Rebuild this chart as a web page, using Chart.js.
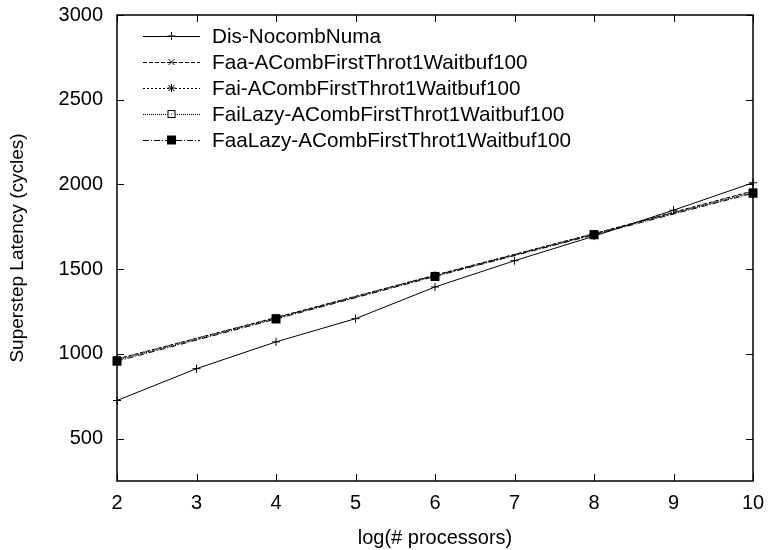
<!DOCTYPE html>
<html lang="en">
<head>
    <meta charset="UTF-8">
    <title>Superstep Latency</title>
    <script src="https://cdn.jsdelivr.net/npm/chart.js"></script>
    <style>
        body {
            margin: 0;
            background-color: white;
        }
        .chart-container {
            position: relative;
            width: 771px;
            height: 550px;
        }
    </style>
</head>
<body>
    <div class="chart-container">
        <canvas id="latencyChart"></canvas>
    </div>

    <script>
        // log2 of processor count
        const xAll = [2, 3, 4, 5, 6, 7, 8, 9, 10];
        const xEven = [2, 4, 6, 8, 10];

        // superstep latency in cycles
        const disNocombNuma = [725, 913, 1071, 1208, 1395, 1550, 1695, 1848, 2010];
        const faaAComb = [970, 1215, 1465, 1710, 1962];
        const faiAComb = [968, 1213, 1463, 1708, 1958];
        const faiLazyAComb = [962, 1210, 1460, 1706, 1952];
        const faaLazyAComb = [957, 1206, 1457, 1703, 1948];

        const xTicks = [2, 3, 4, 5, 6, 7, 8, 9, 10];
        const yTicks = [500, 1000, 1500, 2000, 2500, 3000];

        const FONT = "'Liberation Sans', Arial, sans-serif";

        function toPoints(xs, ys) {
            return xs.map(function(x, i) { return { x: x, y: ys[i] }; });
        }

        // gnuplot-like marker shapes
        function drawMarker(ctx, style, x, y, r) {
            ctx.save();
            ctx.strokeStyle = '#000';
            ctx.lineWidth = 1;
            ctx.setLineDash([]);
            ctx.beginPath();
            if (style === 'plus' || style === 'star') {
                ctx.moveTo(x - r, y); ctx.lineTo(x + r, y);
                ctx.moveTo(x, y - r); ctx.lineTo(x, y + r);
            }
            if (style === 'cross' || style === 'star') {
                const d = r * 0.75;
                ctx.moveTo(x - d, y - d); ctx.lineTo(x + d, y + d);
                ctx.moveTo(x - d, y + d); ctx.lineTo(x + d, y - d);
            }
            ctx.stroke();
            if (style === 'openSquare') {
                ctx.fillStyle = '#fff';
                ctx.fillRect(x - r, y - r, 2 * r, 2 * r);
                ctx.strokeRect(x - r + 0.5, y - r + 0.5, 2 * r - 1, 2 * r - 1);
                ctx.fillStyle = '#000';
                ctx.fillRect(x - 0.5, y - 0.5, 1, 1);
            }
            if (style === 'filledSquare') {
                ctx.fillStyle = '#000';
                ctx.fillRect(x - r, y - r, 2 * r, 2 * r);
            }
            ctx.restore();
        }

        const series = [
            { label: 'Dis-NocombNuma', xs: xAll, ys: disNocombNuma, dash: [], marker: 'plus', r: 4 },
            { label: 'Faa-ACombFirstThrot1Waitbuf100', xs: xEven, ys: faaAComb, dash: [4, 2], marker: 'cross', r: 4 },
            { label: 'Fai-ACombFirstThrot1Waitbuf100', xs: xEven, ys: faiAComb, dash: [2, 2], marker: 'star', r: 4 },
            { label: 'FaiLazy-ACombFirstThrot1Waitbuf100', xs: xEven, ys: faiLazyAComb, dash: [1, 1], marker: 'openSquare', r: 4 },
            { label: 'FaaLazy-ACombFirstThrot1Waitbuf100', xs: xEven, ys: faaLazyAComb, dash: [6, 2, 1, 2], marker: 'filledSquare', r: 4.5 }
        ];

        // frame, inward ticks on all sides, markers and key
        const gnuplotLook = {
            id: 'gnuplotLook',
            afterDatasetsDraw(chart) {
                const ctx = chart.ctx;
                const area = chart.chartArea;
                const xs = chart.scales.x;
                const ys = chart.scales.y;

                series.forEach(function(s, i) {
                    const meta = chart.getDatasetMeta(i);
                    meta.data.forEach(function(pt) {
                        drawMarker(ctx, s.marker, pt.x, pt.y, s.r);
                    });
                });

                ctx.save();
                ctx.strokeStyle = '#000';
                ctx.lineWidth = 1.5;
                ctx.setLineDash([]);
                ctx.strokeRect(area.left, area.top, area.right - area.left, area.bottom - area.top);

                const tl = 7;
                ctx.lineWidth = 1;
                ctx.beginPath();
                xTicks.forEach(function(v) {
                    const px = Math.round(xs.getPixelForValue(v)) + 0.5;
                    ctx.moveTo(px, area.bottom); ctx.lineTo(px, area.bottom - tl);
                    ctx.moveTo(px, area.top); ctx.lineTo(px, area.top + tl);
                });
                yTicks.forEach(function(v) {
                    const py = Math.round(ys.getPixelForValue(v)) + 0.5;
                    ctx.moveTo(area.left, py); ctx.lineTo(area.left + tl, py);
                    ctx.moveTo(area.right, py); ctx.lineTo(area.right - tl, py);
                });
                ctx.stroke();

                // key
                const keyX0 = 143, keyX1 = 200, textX = 212;
                let rowY = 36;
                ctx.font = '20.7px ' + FONT;
                ctx.fillStyle = '#000';
                ctx.textBaseline = 'middle';
                ctx.textAlign = 'left';
                series.forEach(function(s) {
                    ctx.setLineDash(s.dash);
                    ctx.beginPath();
                    ctx.moveTo(keyX0, rowY + 0.5);
                    ctx.lineTo(keyX1, rowY + 0.5);
                    ctx.stroke();
                    ctx.setLineDash([]);
                    drawMarker(ctx, s.marker, (keyX0 + keyX1) / 2, rowY, s.r);
                    ctx.fillText(s.label, textX, rowY + 1);
                    rowY += 26;
                });
                ctx.restore();
            }
        };

        const config = {
            type: 'line',
            data: {
                datasets: series.map(function(s) {
                    return {
                        label: s.label,
                        data: toPoints(s.xs, s.ys),
                        borderColor: '#000',
                        borderWidth: 1,
                        borderDash: s.dash,
                        pointRadius: 0,
                        fill: false,
                        tension: 0
                    };
                })
            },
            options: {
                responsive: true,
                maintainAspectRatio: false,
                animation: false,
                layout: {
                    padding: { top: 15, right: 18, left: 0, bottom: 0 }
                },
                plugins: {
                    legend: { display: false },
                    tooltip: { enabled: false }
                },
                scales: {
                    x: {
                        type: 'linear',
                        min: 2,
                        max: 10,
                        afterBuildTicks: function(scale) {
                            scale.ticks = xTicks.map(function(v) { return { value: v }; });
                        },
                        afterFit: function(scale) {
                            scale.height = 69;
                            scale.paddingLeft = 0;
                            scale.paddingRight = 0;
                        },
                        grid: { display: false, drawTicks: false },
                        border: { display: false },
                        ticks: {
                            color: '#000',
                            font: { family: FONT, size: 20 },
                            padding: 10,
                            maxRotation: 0
                        },
                        title: {
                            display: true,
                            text: 'log(# processors)',
                            color: '#000',
                            font: { family: FONT, size: 20 },
                            padding: { top: 0, bottom: 0 }
                        }
                    },
                    y: {
                        type: 'linear',
                        min: 250,
                        max: 3000,
                        afterBuildTicks: function(scale) {
                            scale.ticks = yTicks.map(function(v) { return { value: v }; });
                        },
                        afterFit: function(scale) {
                            scale.width = 117;
                            scale.paddingTop = 0;
                            scale.paddingBottom = 0;
                        },
                        grid: { display: false, drawTicks: false },
                        border: { display: false },
                        ticks: {
                            color: '#000',
                            font: { family: FONT, size: 20 },
                            padding: 14,
                            callback: function(value) { return String(value); }
                        },
                        title: {
                            display: true,
                            text: 'Superstep Latency (cycles)',
                            color: '#000',
                            font: { family: FONT, size: 19 },
                            padding: { top: 6, bottom: 0 }
                        }
                    }
                }
            },
            plugins: [gnuplotLook]
        };

        const ctx = document.getElementById('latencyChart').getContext('2d');
        const latencyChart = new Chart(ctx, config);
    </script>
</body>
</html>
